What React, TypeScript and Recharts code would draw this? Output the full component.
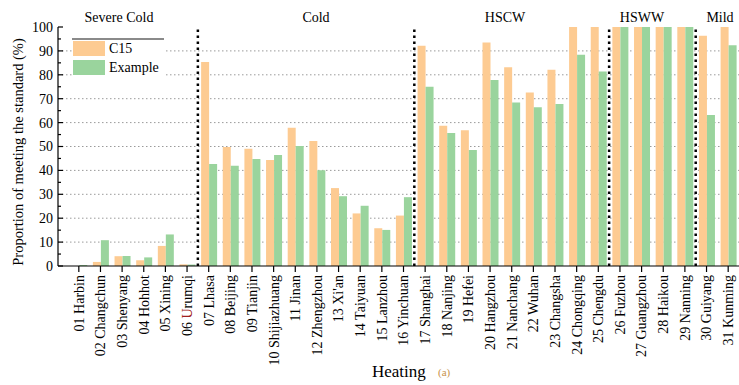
import React from 'react';
import { BarChart, Bar, XAxis, YAxis, CartesianGrid, ReferenceLine } from 'recharts';

const cities = [
  '01 Harbin', '02 Changchun', '03 Shenyang', '04 Hohhot', '05 Xining', '06 Urumqi',
  '07 Lhasa', '08 Beijing', '09 Tianjin', '10 Shijiazhuang', '11 Jinan', '12 Zhengzhou',
  "13 Xi'an", '14 Taiyuan', '15 Lanzhou', '16 Yinchuan', '17 Shanghai', '18 Nanjing',
  '19 Hefei', '20 Hangzhou', '21 Nanchang', '22 Wuhan', '23 Changsha', '24 Chongqing',
  '25 Chengdu', '26 Fuzhou', '27 Guangzhou', '28 Haikou', '29 Nanning', '30 Guiyang',
  '31 Kunming',
];

const c15 = [
  0, 1.7, 4.1, 2.4, 8.4, 0.7,
  85.4, 49.8, 49.1, 44.3, 57.8, 52.3, 32.6, 22.0, 15.8, 21.1,
  92.2, 58.7, 56.8, 93.5, 83.2, 72.6, 82.1, 100, 100,
  100, 100, 100, 100,
  96.3, 100,
];

const example = [
  0.4, 10.8, 4.2, 3.6, 13.2, 0.6,
  42.7, 41.9, 44.8, 46.4, 50.2, 40.1, 29.2, 25.2, 15.1, 28.8,
  75.0, 55.7, 48.5, 77.8, 68.4, 66.4, 67.8, 88.4, 81.4,
  100, 100, 100, 100,
  63.2, 92.4,
];

const zoneNames = ['Severe Cold', 'Cold', 'HSCW', 'HSWW', 'Mild'];
const zoneEnds = ['06 Urumqi', '16 Yinchuan', '25 Chengdu', '29 Nanning'];
const yTicks = [0, 5, 10, 15, 20, 25, 30, 35, 40, 45, 50, 55, 60, 65, 70, 75, 80, 85, 90, 95, 100];
const gridValues = [10, 20, 30, 40, 50, 60, 70, 80, 90];

const data = cities.map((name, i) => ({ name, c15: c15[i], example: example[i] }));

const FONT = "Liberation Serif, Tinos, Times New Roman, Times, DejaVu Serif, Noto Serif, serif";
const ORANGE = '#FDCB92';
const GREEN = '#9AD49D';

const XTick = (props: any) => {
  const { x, y, payload } = props;
  const v: string = String(payload.value);
  const content =
    v === '06 Urumqi' ? (
      <>
        <tspan>06 </tspan>
        <tspan fill="#A02020">U</tspan>
        <tspan>rumqi</tspan>
      </>
    ) : (
      v
    );
  return (
    <text
      x={x}
      y={y}
      transform={`rotate(-90, ${x}, ${y})`}
      textAnchor="end"
      dy="0.35em"
      fontSize={14}
      style={{ fontFamily: FONT }}
      fill="#000"
    >
      {content}
    </text>
  );
};

const YTick = (props: any) => {
  const { x, y, payload } = props;
  const v = Number(payload.value);
  const major = v % 10 === 0;
  return (
    <g>
      <line x1={x} x2={x + (major ? 5 : 3)} y1={y} y2={y} stroke="#000" strokeWidth={1.2} />
      {major && (
        <text x={x - 5} y={y} dy="0.35em" textAnchor="end" fontSize={14} style={{ fontFamily: FONT }} fill="#000">
          {v}
        </text>
      )}
    </g>
  );
};

const TopTick = (props: any) => {
  const { x, y } = props;
  return <line x1={x} x2={x} y1={y} y2={y + 6} stroke="#000" strokeWidth={1.5} />;
};

export default function App() {
  const zoneX = [119, 316, 505, 642, 720];
  return (
    <div style={{ position: 'absolute', left: 0, top: 0, width: 739, height: 385, background: '#fff', fontFamily: FONT }}>
      <BarChart
        width={739}
        height={385}
        data={data}
        margin={{ top: 27, right: 0, bottom: 0, left: 0 }}
        barCategoryGap="15%"
        barGap={0}
      >
        <CartesianGrid
          horizontal
          vertical={false}
          horizontalValues={gridValues}
          stroke="#9a9a9a"
          strokeDasharray="1.5 2.5"
        />
        <Bar dataKey="c15" name="C15" fill={ORANGE} minPointSize={0} isAnimationActive={false} />
        <Bar dataKey="example" name="Example" fill={GREEN} isAnimationActive={false} />
        <XAxis
          dataKey="name"
          interval={0}
          height={119}
          padding={{ left: 10, right: 0 }}
          tick={<XTick />}
          tickSize={6}
          tickMargin={3}
          axisLine={{ stroke: '#000', strokeWidth: 1.2 }}
          tickLine={{ stroke: '#000', strokeWidth: 1.2 }}
        />
        <XAxis
          xAxisId="top"
          orientation="top"
          dataKey="name"
          interval={0}
          height={0}
          padding={{ left: 10, right: 0 }}
          tick={<TopTick />}
          tickSize={0}
          tickMargin={0}
          tickLine={false}
          axisLine={{ stroke: '#000', strokeWidth: 1.2 }}
        />
        <YAxis
          type="number"
          domain={[0, 100]}
          ticks={yTicks}
          interval={0}
          width={58}
          tick={<YTick />}
          tickSize={0}
          tickMargin={0}
          tickLine={false}
          axisLine={{ stroke: '#000', strokeWidth: 1.2 }}
        />
        {zoneEnds.map((c) => (
          <ReferenceLine
            key={c}
            x={c}
            position="end"
            stroke="#000"
            strokeWidth={2.5}
            strokeDasharray="2.5 3.5"
          />
        ))}
      </BarChart>
      <svg
        width={739}
        height={385}
        style={{ position: 'absolute', left: 0, top: 0, pointerEvents: 'none', fontFamily: FONT }}
      >
        {zoneNames.map((z, i) => (
          <text key={z} x={zoneX[i]} y={22} textAnchor="middle" fontSize={14} fill="#000">
            {z}
          </text>
        ))}
        <text
          x={22.5}
          y={152}
          transform="rotate(-90, 22.5, 152)"
          textAnchor="middle"
          fontSize={14.5}
          fill="#000"
        >
          Proportion of meeting the standard (%)
        </text>
        <text x={372} y={377} fontSize={17} fill="#000">
          Heating
        </text>
        <text x={438} y={376} fontSize={11} fill="#C8924A">
          (a)
        </text>
      </svg>
      <div
        style={{
          position: 'absolute',
          left: 72,
          top: 38,
          width: 92,
          height: 37,
          background: '#fff',
          borderTop: '2.5px solid #8a8a8a',
          fontSize: 14,
          color: '#000',
        }}
      >
        <div style={{ position: 'absolute', left: 1, top: 1, width: 32, height: 15, background: ORANGE }} />
        <div style={{ position: 'absolute', left: 37, top: 0, lineHeight: '17px' }}>C15</div>
        <div style={{ position: 'absolute', left: 1, top: 20, width: 32, height: 15, background: GREEN }} />
        <div style={{ position: 'absolute', left: 37, top: 19, lineHeight: '17px' }}>Example</div>
      </div>
    </div>
  );
}
